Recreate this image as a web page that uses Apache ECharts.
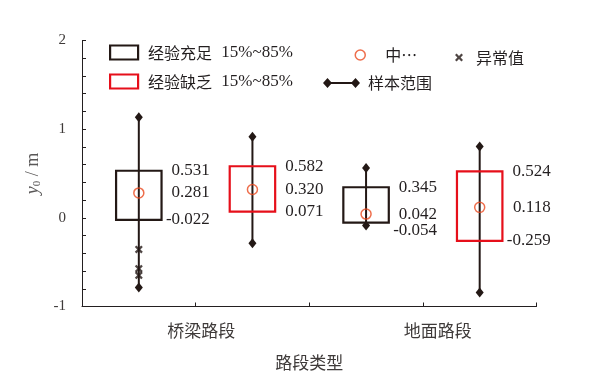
<!DOCTYPE html>
<html><head><meta charset="utf-8">
<script src="https://cdn.jsdelivr.net/npm/echarts@6/dist/echarts.min.js"></script>
<style>html,body{margin:0;padding:0;background:#fff}#c{width:601px;height:374px}</style>
</head><body><div id="c"></div>
<script>
// ---- data ----
const categories = ['桥梁路段', '地面路段'];
const nameRich = '经验充足 15%~85%';
const namePoor = '经验缺乏 15%~85%';
const nameMedian = '中…';
const nameOutlier = '异常值';
const nameRange = '样本范围';
// experienced drivers (per category)
const richMin = [-0.787, -0.087];
const richP15 = [-0.022, -0.054];
const richMed = [0.281, 0.042];
const richP85 = [0.531, 0.345];
const richMax = [1.135, 0.562];
// inexperienced drivers (per category)
const poorMin = [-0.287, -0.843];
const poorP15 = [0.071, -0.259];
const poorMed = [0.320, 0.118];
const poorP85 = [0.582, 0.524];
const poorMax = [0.914, 0.805];
// outliers: [category index, group (0 = 充足, 1 = 缺乏), value]
const outlierCat = [0, 0, 0];
const outlierGrp = [0, 0, 0];
const outlierVal = [-0.356, -0.573, -0.648];
const yTicks = [-1, 0, 1, 2];

// ---- layout helpers ----
const INK = '#231815';
const RED = '#e60f1a';
const MED = '#ea4a1f';
const TXT = '#231f20';
function xPos(cat, grp) { return cat * 2 + grp + 0.5; }

const rangeData = [];
const richData = [], poorData = [], medData = [];
categories.forEach((c, i) => {
  rangeData.push([xPos(i, 0), richMin[i], richMax[i]]);
  rangeData.push([xPos(i, 1), poorMin[i], poorMax[i]]);
  richData.push([xPos(i, 0), richP15[i], richMed[i], richP85[i]]);
  poorData.push([xPos(i, 1), poorP15[i], poorMed[i], poorP85[i]]);
  medData.push([xPos(i, 0), richMed[i]]);
  medData.push([xPos(i, 1), poorMed[i]]);
});
const outData = outlierVal.map((v, k) => [xPos(outlierCat[k], outlierGrp[k]), v]);

function diamond(p) {
  return { type: 'polygon', shape: { points: [[p[0], p[1] - 5], [p[0] + 4, p[1]], [p[0], p[1] + 5], [p[0] - 4, p[1]]] }, style: { fill: INK } };
}
function renderRange(params, api) {
  const x = api.value(0);
  const a = api.coord([x, api.value(1)]);
  const b = api.coord([x, api.value(2)]);
  return { type: 'group', children: [
    { type: 'line', shape: { x1: a[0], y1: a[1], x2: b[0], y2: b[1] }, style: { stroke: INK, lineWidth: 2 } },
    diamond(a), diamond(b)
  ] };
}
function makeBox(color) {
  return function (params, api) {
    const x = api.value(0);
    const lo = api.value(1), md = api.value(2), hi = api.value(3);
    const pLo = api.coord([x, lo]), pMd = api.coord([x, md]), pHi = api.coord([x, hi]);
    const hw = api.size([0.4, 0])[0] / 2;
    const yHi = pHi[1];
    const yMd = Math.max(pMd[1], yHi + 16);
    const yLo = Math.max(pLo[1], yMd + 16);
    const tx = pMd[0] + 71;
    const lab = (v, y) => ({ type: 'text', style: { text: v.toFixed(3), x: tx, y: y, align: 'right', verticalAlign: 'middle', fontSize: 17, fontFamily: '"Liberation Serif"', fill: TXT } });
    return { type: 'group', children: [
      { type: 'rect', shape: { x: pHi[0] - hw, y: pHi[1], width: hw * 2, height: pLo[1] - pHi[1] }, style: { fill: 'none', stroke: color, lineWidth: 2.2 } },
      lab(hi, yHi), lab(md, yMd), lab(lo, yLo)
    ] };
  };
}

const crossPath = 'path://M0,2L2,0L5,3L8,0L10,2L7,5L10,8L8,10L5,7L2,10L0,8L3,5Z';
const rangeIcon = 'path://M0,5L4.5,0L9,5L4.5,10Z M4.5,4L32.5,4L32.5,6L4.5,6Z M28,5L32.5,0L37,5L32.5,10Z';
const legRich = {
  c: { fontSize: 16, fontFamily: '"Noto Sans CJK SC"', color: TXT, lineHeight: 16 },
  n: { fontSize: 17, fontFamily: '"Liberation Serif"', color: TXT, lineHeight: 16, padding: [0, 0, 0, 5] }
};
const legFmt = name => {
  const parts = name.split(' ');
  return parts.length > 1 ? '{c|' + parts[0] + '}{n| ' + parts[1] + '}' : '{c|' + name + '}';
};

const chart = echarts.init(document.getElementById('c'), null, { renderer: 'canvas' });
chart.setOption({
  animation: false,
  backgroundColor: '#fff',
  grid: { left: 82, right: 64.5, top: 40.5, bottom: 67.5, containLabel: false, outerBoundsMode: 'none' },
  legend: [
    { left: 109, top: 44, orient: 'vertical', padding: 0, itemGap: 12, itemWidth: 28, itemHeight: 14, selectedMode: false,
      formatter: legFmt, textStyle: { padding: [0, 0, 0, 5], rich: legRich },
      data: [
        { name: nameRich, icon: 'rect', itemStyle: { color: 'transparent', borderColor: INK, borderWidth: 2.2 } },
        { name: namePoor, icon: 'rect', itemStyle: { color: 'transparent', borderColor: RED, borderWidth: 2.2 } }
      ] },
    { left: 354.5, top: 47, padding: 0, itemWidth: 10, itemHeight: 10, selectedMode: false,
      formatter: legFmt, textStyle: { padding: [0, 0, 0, 15], rich: legRich },
      data: [{ name: nameMedian, icon: 'circle', itemStyle: { color: 'transparent', borderColor: MED, borderWidth: 1.5 } }] },
    { left: 455, top: 49.5, padding: 0, itemWidth: 8, itemHeight: 8, selectedMode: false,
      formatter: legFmt, textStyle: { padding: [0, 0, 0, 8], rich: legRich },
      data: [{ name: nameOutlier, icon: crossPath, itemStyle: { color: INK } }] },
    { left: 323, top: 75, padding: 0, itemWidth: 37, itemHeight: 10, selectedMode: false,
      formatter: legFmt, textStyle: { padding: [0, 0, 0, 3], rich: legRich },
      data: [{ name: nameRange, icon: rangeIcon, itemStyle: { color: INK } }] }
  ],
  xAxis: {
    type: 'value', min: 0, max: 4, interval: 1,
    axisLine: { onZero: false, lineStyle: { color: TXT, width: 1 } },
    axisTick: { show: true, inside: true, length: 4, lineStyle: { color: TXT } },
    splitLine: { show: false },
    axisLabel: { customValues: [1.05, 3.13], formatter: v => (v < 2 ? categories[0] : categories[1]),
      fontSize: 17, fontFamily: '"Noto Sans CJK SC"', color: '#3e3a39', margin: 16 },
    name: '路段类型', nameLocation: 'middle', nameGap: 48,
    nameTextStyle: { fontSize: 17, fontFamily: '"Noto Sans CJK SC"', color: '#3e3a39' }
  },
  yAxis: {
    type: 'value', min: yTicks[0], max: yTicks[yTicks.length - 1], interval: 1,
    axisLine: { show: true, lineStyle: { color: TXT, width: 1 } },
    axisTick: { show: true, inside: true, length: 4, lineStyle: { color: TXT } },
    minorTick: { show: true, splitNumber: 5, length: 4, lineStyle: { color: TXT } },
    splitLine: { show: false },
    axisLabel: { fontSize: 15, fontFamily: '"Liberation Serif"', color: '#3e3a39', margin: 16 },
    name: '{i|y}{s|0}{n| / m}', nameLocation: 'middle', nameGap: 29, nameRotate: 90,
    nameTextStyle: { fontSize: 18, fontFamily: '"Liberation Serif"', color: '#595757', rich: {
      i: { fontSize: 18, fontStyle: 'italic', fontFamily: '"Liberation Serif"', color: '#595757' },
      s: { fontSize: 11, fontFamily: '"Liberation Serif"', color: '#595757', verticalAlign: 'bottom' },
      n: { fontSize: 18, fontFamily: '"Liberation Serif"', color: '#595757' }
    } }
  },
  series: [
    { type: 'custom', name: nameRange, renderItem: renderRange, data: rangeData, z: 2, encode: { x: 0, y: [1, 2] } },
    { type: 'custom', name: nameRich, renderItem: makeBox(INK), data: richData, z: 3, encode: { x: 0, y: [1, 2, 3] } },
    { type: 'custom', name: namePoor, renderItem: makeBox(RED), data: poorData, z: 3, encode: { x: 0, y: [1, 2, 3] } },
    { type: 'scatter', name: nameMedian, data: medData, symbol: 'circle', symbolSize: 10, z: 4,
      itemStyle: { color: 'transparent', borderColor: MED, borderWidth: 1.5 } },
    { type: 'scatter', name: nameOutlier, data: outData, symbol: crossPath, symbolSize: 8, z: 4,
      itemStyle: { color: INK } }
  ]
});
</script></body></html>
